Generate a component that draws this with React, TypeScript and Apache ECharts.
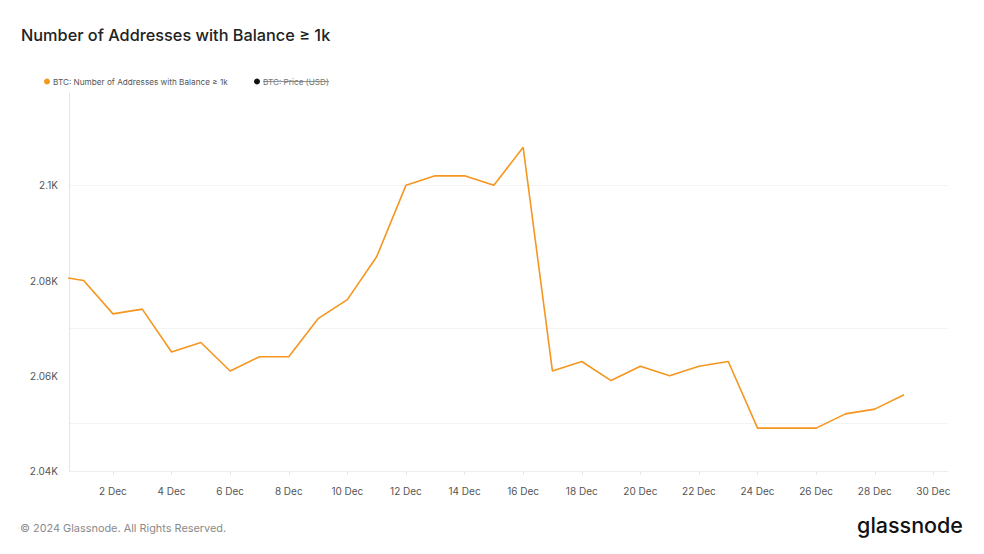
import React, { useEffect, useRef } from "react";
import * as echarts from "echarts";

// x = day of December (0 = 30 Nov)
const dayOfDec = [0, 1, 2, 3, 4, 5, 6, 7, 8, 9, 10, 11, 12, 13, 14, 15, 16, 17, 18, 19, 20, 21, 22, 23, 24, 25, 26, 27, 28, 29];
const addresses = [2081, 2080, 2073, 2074, 2065, 2067, 2061, 2064, 2064, 2072, 2076, 2085, 2100, 2102, 2102, 2100, 2108, 2061, 2063, 2059, 2062, 2060, 2062, 2063, 2049, 2049, 2049, 2052, 2053, 2056];
const xTickDays = [2, 4, 6, 8, 10, 12, 14, 16, 18, 20, 22, 24, 26, 28, 30];
const yTicks = [2040, 2060, 2080, 2100];
const priceGridLevels = [2100, 2070, 2050];

const TITLE = "Number of Addresses with Balance \u2265 1k";
const LEGEND_1 = "BTC: Number of Addresses with Balance \u2265 1k";
const LEGEND_2 = "BTC: Price (USD)";
const FOOTER = "\u00a9 2024 Glassnode. All Rights Reserved.";

const FONT = "Inter, 'Noto Sans', sans-serif";
const ORANGE = "#F5961F";

export default function App() {
  const ref = useRef<HTMLDivElement>(null);
  useEffect(() => {
    if (!ref.current) return;
    const chart = echarts.init(ref.current, undefined, { renderer: "svg" });
    const fmtK = (v: number) => {
      if (!yTicks.includes(v)) return "";
      const k = v / 1000;
      return `${parseFloat(k.toFixed(2))}K`;
    };
    chart.setOption({
      animation: false,
      backgroundColor: "#ffffff",
      textStyle: { fontFamily: FONT },
      grid: { left: 69, right: 36, top: 93, bottom: 83, containLabel: false },
      xAxis: {
        type: "value",
        min: 0.5,
        max: 30.5,
        axisLine: { show: true, lineStyle: { color: "#eeeeee", width: 1 } },
        axisTick: { show: true, customValues: xTickDays, length: 4, lineStyle: { color: "#e6e6e6" } },
        axisLabel: {
          customValues: xTickDays,
          formatter: (v: number) => `${v} Dec`,
          color: "#555555",
          fontSize: 10,
          margin: 15,
          fontFamily: FONT,
        },
        splitLine: { show: false },
      },
      yAxis: {
        type: "value",
        min: 2040,
        max: 2119.4,
        axisLine: { show: true, lineStyle: { color: "#f4e2c0", width: 1 } },
        axisTick: { show: false },
        axisLabel: {
          customValues: yTicks,
          formatter: fmtK,
          color: "#555555",
          fontSize: 10,
          margin: 11,
          fontFamily: FONT,
        },
        splitLine: { show: false },
      },
      series: [
        {
          type: "line",
          data: dayOfDec.map((d, i) => [d, addresses[i]]),
          showSymbol: false,
          clip: true,
          lineStyle: { color: ORANGE, width: 1.6 },
          itemStyle: { color: ORANGE },
          markLine: {
            silent: true,
            symbol: "none",
            label: { show: false },
            lineStyle: { color: "#f3f3f3", width: 1, type: "solid" },
            data: priceGridLevels.map((v) => ({ yAxis: v })),
            z: 0,
          },
          z: 3,
        },
      ],
      graphic: [
        {
          type: "text",
          left: 21,
          top: 27,
          style: { text: TITLE, fontSize: 16.3, fontWeight: 500, fill: "#222222", fontFamily: FONT },
        },
        { type: "circle", shape: { cx: 47, cy: 81.5, r: 3 }, style: { fill: ORANGE } },
        {
          type: "text",
          x: 53,
          y: 81.5,
          style: { text: LEGEND_1, fontSize: 8.2, fill: "#555555", fontFamily: FONT, verticalAlign: "middle" },
        },
        { type: "circle", shape: { cx: 257, cy: 81.5, r: 3 }, style: { fill: "#111111" } },
        {
          type: "text",
          x: 263,
          y: 81.5,
          style: { text: LEGEND_2, fontSize: 8.2, fill: "#777777", fontFamily: FONT, verticalAlign: "middle" },
        },
        { type: "line", shape: { x1: 263, y1: 81.5, x2: 329, y2: 81.5 }, style: { stroke: "#777777", lineWidth: 0.8 } },
        {
          type: "text",
          left: 20,
          top: 522,
          style: { text: FOOTER, fontSize: 10.9, fill: "#8a8a8a", fontFamily: FONT },
        },
        {
          type: "text",
          right: 21,
          top: 514,
          style: { text: "glassnode", fontSize: 21.5, fontWeight: 500, fill: "#111111", fontFamily: FONT },
        },
      ],
    });
    return () => chart.dispose();
  }, []);
  return <div ref={ref} style={{ width: 984, height: 554, position: "fixed", left: 0, top: 0 }} />;
}
